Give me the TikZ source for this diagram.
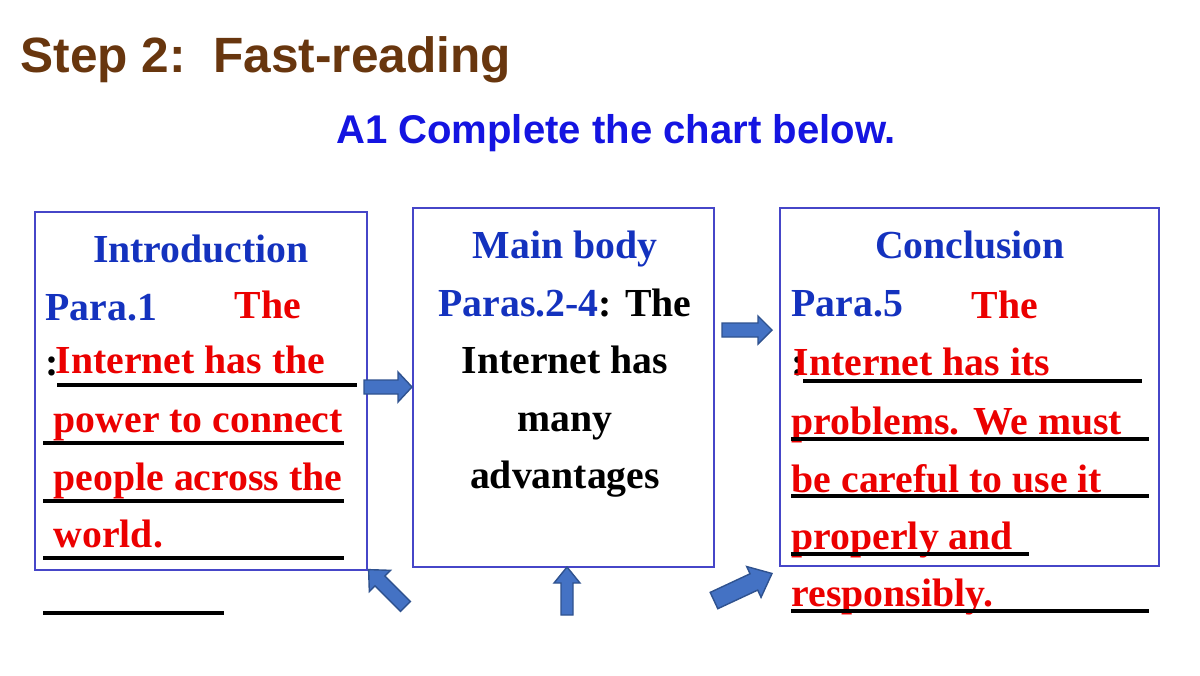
\documentclass[tikz,border=0pt]{standalone}
\usepackage{fontspec}
\setmainfont{Liberation Serif}
\newfontfamily\arialf{Liberation Sans}
\definecolor{brn}{RGB}{104,54,14}
\definecolor{ttl}{RGB}{20,20,225}
\definecolor{hd}{RGB}{20,50,190}
\definecolor{ans}{RGB}{235,0,0}
\definecolor{bx}{RGB}{70,70,200}
\definecolor{arf}{RGB}{68,114,196}
\definecolor{ard}{RGB}{47,82,143}
\tikzset{
  panel/.style={draw=bx,line width=0.6pt},
  txt/.style={anchor=base west,inner sep=0pt,font=\fontsize{11.3}{13}\selectfont\bfseries},
  ctxt/.style={anchor=base,inner sep=0pt,font=\fontsize{11.3}{13}\selectfont\bfseries},
  redt/.style={txt,text=ans},
  uline/.style={line width=1.1pt,black},
  barrow/.style={draw=ard,fill=arf,line width=0.4pt,line join=miter}
}
% #1 x, #2 y, #3 angle (pixel space), #4 length, #5 shaft half width, #6 head half width, #7 head length
\newcommand\myblockarrow[7]{%
  \begin{scope}[shift={(#1,#2)},rotate=#3]
  \draw[barrow] (-#4/2,-#5) -- (#4/2-#7,-#5) -- (#4/2-#7,-#6) -- (#4/2,0)
     -- (#4/2-#7,#6) -- (#4/2-#7,#5) -- (-#4/2,#5) -- cycle;
  \end{scope}}
\begin{document}
\begin{tikzpicture}[x=0.01cm,y=-0.01cm]
\useasboundingbox (0,0) rectangle (1200,675);
\node[anchor=base west,inner sep=0pt,text=brn,font=\arialf\fontsize{14.1}{16}\selectfont\bfseries] (title) at (20,72) {Step 2:\ \ Fast-reading};
\node[anchor=base,inner sep=0pt,text=ttl,font=\arialf\fontsize{11.4}{13}\selectfont\bfseries] (sub) at (616,143) {A1 Complete the chart below.};
% boxes
\draw[panel] (35,212) rectangle (367,570);
\draw[panel] (413,208) rectangle (714,567);
\draw[panel] (780,208) rectangle (1159,566);
% left box
\node[ctxt,text=hd] (intro) at (201,262) {Introduction};
\node[txt,text=hd] (p1) at (45,320) {Para.1};
\node[redt] (l0) at (234,318) {The};
\node[txt] (c1) at (45,375) {:};
\node[redt] (l1) at (55,373) {Internet has the};
\node[redt] (l2) at (53,432) {power to connect};
\node[redt] (l3) at (53,490) {people across the};
\node[redt] (l4) at (53,547) {world.};
\draw[uline] (57,385) -- (357,385);
\draw[uline] (43,443) -- (344,443);
\draw[uline] (43,501) -- (344,501);
\draw[uline] (43,558) -- (344,558);
\draw[uline] (43,613) -- (224,613);
% middle box
\node[ctxt,text=hd] (main) at (565,258) {Main body};
\node[ctxt] (m1) at (565,316) {\textcolor{hd}{Paras.2-4}: The};
\node[ctxt] (m2) at (565,373) {Internet has};
\node[ctxt] (m3) at (565,431) {many};
\node[ctxt] (m4) at (565,488) {advantages};
% right box
\node[ctxt,text=hd] (conc) at (970,258) {Conclusion};
\node[txt,text=hd] (p5) at (791,316) {Para.5};
\node[redt] (r0) at (971,318) {The};
\node[txt] (c5) at (791,375) {:};
\node[redt] (r1) at (793,375) {Internet has its};
\node[redt] (r2) at (791,434) {problems. We must};
\node[redt] (r3) at (791,492) {be careful to use it};
\node[redt] (r4) at (791,549) {properly and};
\node[redt] (r5) at (791,606) {responsibly.};
\draw[uline] (803,381) -- (1142,381);
\draw[uline] (791,439) -- (1149,439);
\draw[uline] (791,496) -- (1149,496);
\draw[uline] (791,554) -- (1029,554);
\draw[uline] (791,611) -- (1149,611);
% block arrows
\myblockarrow{388}{387}{0}{48}{7}{15}{14}
\myblockarrow{747}{330}{0}{50}{7}{14}{14}
\myblockarrow{567}{591}{90}{48}{6}{13}{16}
\myblockarrow{387}{588}{135}{52}{7}{15}{16}
\myblockarrow{743}{587}{25}{64}{9}{17}{20}
\end{tikzpicture}
\end{document}
